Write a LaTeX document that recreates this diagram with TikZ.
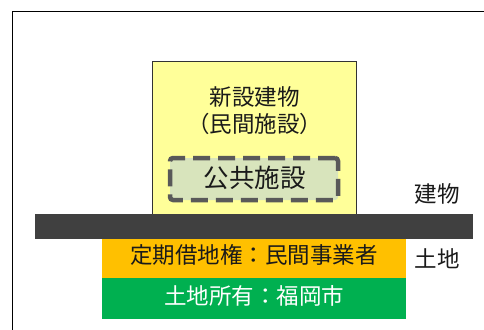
\documentclass[tikz,border=0pt]{standalone}
\usepackage{fontspec}
\setmainfont{Noto Sans CJK JP}
\definecolor{bldgyellow}{HTML}{FFFF99}
\definecolor{pubgreen}{HTML}{D8E4BC}
\definecolor{dashgray}{HTML}{595959}
\definecolor{bardark}{HTML}{404040}
\definecolor{leaseorange}{HTML}{FFC000}
\definecolor{landgreen}{HTML}{00B050}
\definecolor{txt}{HTML}{1A1A1A}
\tikzset{
  layer/.style={inner sep=0pt, outer sep=0pt, draw=none},
  lbl/.style={inner sep=0pt, text=txt, font=\fontsize{22.5}{27}\selectfont, align=center},
}
\begin{document}
\begin{tikzpicture}[x=1pt,y=-1pt]
\useasboundingbox (0,0) rectangle (484,329);
% outer frame
\coordinate (fbl) at (12.7,340);
\coordinate (ftl) at (12.7,11.4);
\coordinate (ftr) at (490,11.4);
\draw[line width=1.5pt, black] (fbl) -- (ftl) -- (ftr);
% building
\node[layer, draw=black!80, line width=0.8pt, fill=bldgyellow, minimum width=204.5pt, minimum height=153pt] (bldg) at (254.25,137.5) {};
\node[lbl] (bldgtxt) at (254.5,111) {新設建物\\（民間施設）};
% public facility
\node[layer, draw=dashgray, line width=4.5pt, dash pattern=on 17pt off 8pt, rounded corners=3pt, fill=pubgreen, minimum width=168pt, minimum height=42pt] (pub) at (254,179) {};
\node[lbl, font=\fontsize{25.5}{30}\selectfont] (pubtxt) at (254.5,178) {公共施設};
% ground bar
\node[layer, fill=bardark, minimum width=438pt, minimum height=25pt] (bar) at (254,226.5) {};
% lease
\node[layer, fill=leaseorange, minimum width=304pt, minimum height=38.5pt] (lease) at (254,258.25) {};
\node[lbl] (leasetxt) at (254,255) {定期借地権：民間事業者};
% land ownership
\node[layer, fill=landgreen, minimum width=304pt, minimum height=41pt] (land) at (254,298) {};
\node[lbl, text=white] (landtxt) at (254,296) {土地所有：福岡市};
% side labels
\node[lbl] (lblbldg) at (437,194) {建物};
\node[lbl] (lblland) at (437,259) {土地};
\end{tikzpicture}
\end{document}
